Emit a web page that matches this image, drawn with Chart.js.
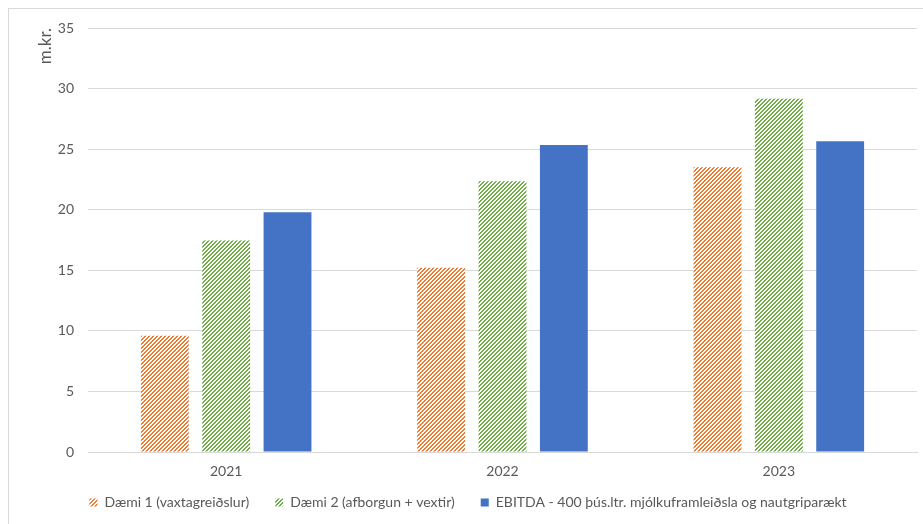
<!DOCTYPE html>
<html>
<head>
<meta charset="utf-8">
<script src="https://cdn.jsdelivr.net/npm/chart.js@4.4.1/dist/chart.umd.min.js"></script>
<style>
    body { margin: 0; background: #fff; }
    #wrap { position: relative; width: 923px; height: 524px; overflow: hidden; }
    #frame { position: absolute; left: 8px; top: 8px; width: 1000px; height: 600px; border: 1px solid #d9d9d9; }
    #chartBox { position: absolute; left: 0; top: 0; width: 936px; height: 524px; }
</style>
</head>
<body>
<div id="wrap">
    <div id="frame"></div>
    <div id="chartBox"><canvas id="barChart"></canvas></div>
</div>
<script>
const years = ['2021', '2022', '2023'];
const daemi1 = [9.6, 15.2, 23.5];
const daemi2 = [17.45, 22.35, 29.15];
const ebitda = [19.8, 25.35, 25.65];
const seriesNames = [
    'Dæmi 1 (vaxtagreiðslur)',
    'Dæmi 2 (afborgun + vextir)',
    'EBITDA - 400 þús.ltr. mjólkuframleiðsla og nautgriparækt'
];

// diagonal stripe fill like the Excel "wide upward diagonal" pattern
function stripes(color) {
    const c = document.createElement('canvas');
    c.width = 4;
    c.height = 4;
    const g = c.getContext('2d');
    g.fillStyle = '#ffffff';
    g.fillRect(0, 0, 4, 4);
    g.fillStyle = color;
    for (let y = 0; y < 4; y++) {
        for (let x = 0; x < 4; x++) {
            if ((x + y) % 4 < 2) g.fillRect(x, y, 1, 1);
        }
    }
    return g.createPattern(c, 'repeat');
}

const font = { family: 'Lato', size: 14 };
const grey = '#595959';

// x labels sit lower than the squeezed x box, so widen its clip area after layout
const unclipX = {
    id: 'unclipX',
    afterLayout: function(chart) {
        chart.scales.x.bottom = chart.scales.x.top + 40;
    }
};

const ctx = document.getElementById('barChart').getContext('2d');
const barChart = new Chart(ctx, {
    type: 'bar',
    data: {
        labels: years,
        datasets: [
            { label: seriesNames[0], data: daemi1, backgroundColor: stripes('#ED7D31'), borderWidth: 0 },
            { label: seriesNames[1], data: daemi2, backgroundColor: stripes('#70AD47'), borderWidth: 0 },
            { label: seriesNames[2], data: ebitda, backgroundColor: '#4472C4', borderWidth: 0 }
        ]
    },
    options: {
        responsive: true,
        maintainAspectRatio: false,
        animation: false,
        datasets: { bar: { categoryPercentage: 0.666, barPercentage: 0.78 } },
        layout: { padding: { left: 0, right: 0, top: 28, bottom: 4.5 } },
        plugins: {
            tooltip: { enabled: false },
            legend: {
                position: 'bottom',
                labels: { boxWidth: 8, boxHeight: 8, padding: 26, color: grey, font: font }
            }
        },
        scales: {
            x: {
                grid: { display: false },
                border: { color: '#d9d9d9' },
                ticks: { color: grey, font: font, padding: 3 },
                afterFit: function(s) { s.height = 17.5; }
            },
            y: {
                min: 0,
                max: 35,
                ticks: { stepSize: 5, color: grey, font: font, padding: 14 },
                grid: { color: '#d9d9d9', drawTicks: false },
                border: { display: false },
                title: { display: true, text: 'm.kr.', align: 'end', color: grey, font: { family: 'Lato', size: 17 }, padding: { top: 35, bottom: 0 } },
                afterFit: function(s) { s.width = 88; }
            },
            y2: {
                position: 'right',
                grid: { display: false },
                border: { display: false },
                ticks: { display: false },
                afterFit: function(s) { s.width = 19; }
            }
        }
    },
    plugins: [unclipX]
});
</script>
</body>
</html>
